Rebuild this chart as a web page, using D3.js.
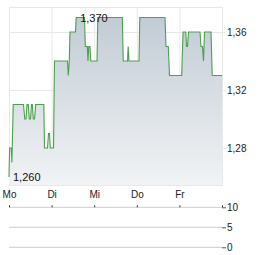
<!DOCTYPE html>
<html>
<head>
<meta charset="utf-8">
<script src="https://cdn.jsdelivr.net/npm/d3@7"></script>
<style>
  body { margin: 0; background: #fff; }
  svg { display: block; font-family: "Liberation Sans", Arial, sans-serif; }
</style>
</head>
<body>
<svg id="chart" width="264" height="255"></svg>
<script>
// days since Monday open (fractional), and the price at that moment
let times = [0.000, 0.014, 0.054, 0.068, 0.099, 0.340, 0.371, 0.399, 0.423, 0.453,
  0.477, 0.505, 0.528, 0.547, 0.570, 0.599, 0.627, 0.817, 0.833, 0.904,
  0.927, 0.951, 0.969, 1.045, 1.068, 1.373, 1.392, 1.415, 1.432, 1.561,
  1.577, 1.772, 1.791, 1.838, 1.854, 1.873, 1.901, 1.920, 2.066, 2.085,
  2.660, 2.681, 2.782, 2.798, 2.817, 3.052, 3.070, 3.662, 3.685, 3.739,
  3.768, 4.054, 4.085, 4.150, 4.167, 4.190, 4.214, 4.484, 4.507, 4.542,
  4.566, 4.589, 4.742, 4.770, 5.000];
let prices = [1.260, 1.280, 1.280, 1.270, 1.310, 1.310, 1.300, 1.300, 1.310, 1.310,
  1.300, 1.300, 1.310, 1.310, 1.300, 1.300, 1.310, 1.310, 1.280, 1.280,
  1.290, 1.290, 1.280, 1.280, 1.340, 1.340, 1.330, 1.340, 1.360, 1.360,
  1.370, 1.370, 1.350, 1.350, 1.340, 1.350, 1.350, 1.340, 1.340, 1.370,
  1.370, 1.340, 1.340, 1.350, 1.340, 1.340, 1.370, 1.370, 1.350, 1.350,
  1.330, 1.330, 1.360, 1.360, 1.350, 1.350, 1.360, 1.360, 1.350, 1.350,
  1.340, 1.360, 1.360, 1.330, 1.330];

let dayLabels = ['Mo', 'Di', 'Mi', 'Do', 'Fr'];
let dayTicks = [0, 1, 2, 3, 4];
let priceTicks = [1.28, 1.32, 1.36];
let volumeTicks = [0, 5, 10];

let svg = d3.select('#chart');

let plotLeft = 9, plotRight = 222, plotTop = 7, plotBottom = 185;

let x = d3.scaleLinear().domain([0, 5]).range([plotLeft, plotRight]);
let y = d3.scaleLinear().domain([1.28, 1.36]).range([148, 32]);
let yv = d3.scaleLinear().domain([0, 10]).range([247.3, 207.3]);

let fmt = (d) => d3.format('.2f')(d).replace('.', ',');
let fmt3 = (d) => d3.format('.3f')(d).replace('.', ',');

let data = times.map((t, i) => ({ t: t, p: prices[i] }));

// gradient for the area
let defs = svg.append('defs');
let grad = defs.append('linearGradient')
  .attr('id', 'fill')
  .attr('x1', 0).attr('y1', 0).attr('x2', 0).attr('y2', 1);
grad.append('stop').attr('offset', '0%').attr('stop-color', '#c2ccd5');
grad.append('stop').attr('offset', '100%').attr('stop-color', '#f1f3f5');

// grid
svg.append('g')
  .selectAll('line')
  .data(dayTicks)
  .enter()
  .append('line')
  .attr('x1', (d) => x(d) + 0.5).attr('x2', (d) => x(d) + 0.5)
  .attr('y1', plotTop).attr('y2', plotBottom)
  .attr('stroke', '#e8e8e8');

svg.append('g')
  .selectAll('line')
  .data(priceTicks)
  .enter()
  .append('line')
  .attr('x1', plotLeft).attr('x2', plotRight)
  .attr('y1', (d) => y(d) + 0.5).attr('y2', (d) => y(d) + 0.5)
  .attr('stroke', '#e8e8e8');

svg.append('rect')
  .attr('x', plotLeft + 0.5).attr('y', plotTop + 0.5)
  .attr('width', plotRight - plotLeft).attr('height', plotBottom - plotTop)
  .attr('fill', 'none')
  .attr('stroke', '#e8e8e8');

// area + line
svg.append('path')
  .datum(data)
  .attr('d', d3.area().x((d) => x(d.t)).y0(plotBottom).y1((d) => y(d.p)))
  .attr('fill', 'url(#fill)');

svg.append('path')
  .datum(data)
  .attr('d', d3.line().x((d) => x(d.t)).y((d) => y(d.p)))
  .attr('fill', 'none')
  .attr('stroke', '#4c9f4c')
  .attr('stroke-width', 1.1);

// min / max labels
let iMax = d3.maxIndex(prices);
let iMin = d3.minIndex(prices);
[iMax, iMin].forEach((i) => {
  svg.append('text')
    .attr('x', x(times[i]) + 4)
    .attr('y', y(prices[i]))
    .attr('dominant-baseline', 'central')
    .attr('font-size', 11)
    .attr('fill', '#111')
    .text(fmt3(prices[i]));
});

// price axis on the right
let yAxis = svg.append('g')
  .attr('transform', 'translate(' + plotRight + ',0)')
  .call(d3.axisRight(y).tickValues(priceTicks).tickSize(4).tickPadding(1).tickFormat(fmt));
yAxis.select('.domain').remove();
yAxis.selectAll('line').attr('stroke', '#e8e8e8');
yAxis.selectAll('text').attr('font-size', 10).attr('fill', '#222');
yAxis.attr('font-family', null);

// day labels
let xAxis = svg.append('g')
  .attr('transform', 'translate(0,' + plotBottom + ')')
  .call(d3.axisBottom(x).tickValues(dayTicks).tickSize(0).tickPadding(6).tickFormat((d, i) => dayLabels[i]));
xAxis.select('.domain').remove();
xAxis.selectAll('text').attr('font-size', 10).attr('fill', '#222');
xAxis.attr('font-family', null);

// volume panel
svg.append('g')
  .selectAll('line')
  .data(volumeTicks)
  .enter()
  .append('line')
  .attr('x1', plotLeft).attr('x2', plotRight)
  .attr('y1', (d) => yv(d)).attr('y2', (d) => yv(d))
  .attr('stroke', '#cccccc');

let vTop = svg.append('g')
  .attr('transform', 'translate(0,' + yv(10) + ')')
  .call(d3.axisTop(x).tickValues([0, 1, 2, 3, 4, 5]).tickSize(2).tickFormat(''));
vTop.select('.domain').remove();
vTop.selectAll('line').attr('stroke', '#333');

let vAxis = svg.append('g')
  .attr('transform', 'translate(' + plotRight + ',0)')
  .call(d3.axisRight(yv).tickValues(volumeTicks).tickSize(4).tickPadding(1));
vAxis.select('.domain').remove();
vAxis.selectAll('line').attr('stroke', '#555');
vAxis.selectAll('text').attr('font-size', 10).attr('fill', '#222');
vAxis.attr('font-family', null);
</script>
</body>
</html>
